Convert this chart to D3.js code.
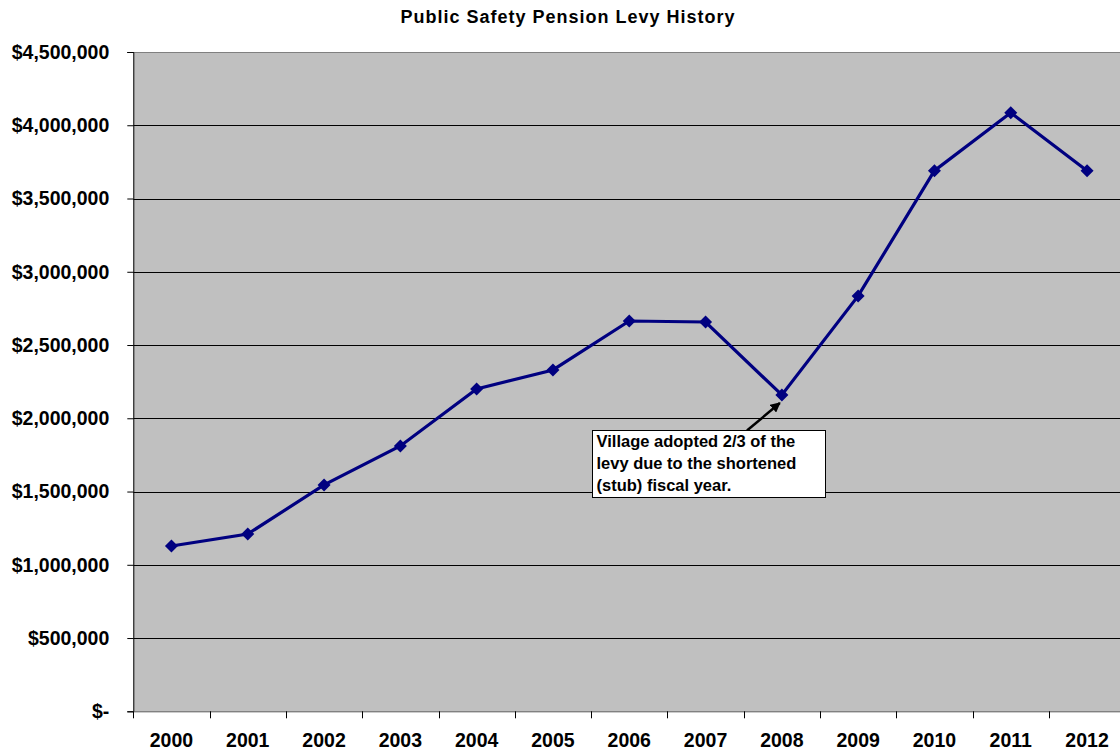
<!doctype html>
<html lang="en">
<head>
  <meta charset="utf-8">
  <title>Public Safety Pension Levy History</title>
  <style>
  body { margin: 0; background: #fff; }
  svg { display: block; font-family: Arial, "Liberation Sans", sans-serif; font-weight: bold; }
  </style>
</head>
<body>
  <div id="chart"></div>
  <script src="https://cdn.jsdelivr.net/npm/d3@7"></script>
  <script>
    var years = ['2000','2001','2002','2003','2004','2005','2006','2007','2008','2009','2010','2011','2012'];
    var levy = [1128000, 1210000, 1545000, 1811000, 2200000, 2330000, 2664000, 2657000, 2159000, 2835000, 3690000, 4086000, 3690000];
    var yTicks = [0, 500000, 1000000, 1500000, 2000000, 2500000, 3000000, 3500000, 4000000, 4500000];
    var noteLines = ['Village adopted 2/3 of the', 'levy due to the shortened', '(stub) fiscal year.'];
    var noteYear = '2008';

    (function() {
      var width = 1120, height = 753;
      var left = 133.3, top = 52, bottom = 711.3, band = 76.3;

      var svg = d3.select('#chart').append('svg')
          .attr('width', width)
          .attr('height', height);

      var x = d3.scaleBand().domain(years).range([left, left + band * years.length]);
      var y = d3.scaleLinear().domain([0, 4500000]).range([bottom, top]);

      // plot area
      svg.append('rect')
        .attr('x', left).attr('y', top)
        .attr('width', width - left).attr('height', bottom - top)
        .attr('fill', '#c0c0c0');
      svg.append('line')
        .attr('x1', left).attr('x2', width)
        .attr('y1', top + 0.5).attr('y2', top + 0.5)
        .attr('stroke', '#808080');

      // gridlines
      svg.append('g').selectAll('line')
        .data(yTicks.filter(function(d) { return d > 0 && d < 4500000; }))
        .enter().append('line')
        .attr('x1', left).attr('x2', width)
        .attr('y1', function(d) { return Math.round(y(d)) + 0.5; })
        .attr('y2', function(d) { return Math.round(y(d)) + 0.5; })
        .attr('stroke', '#000').attr('stroke-width', 1);

      var fmt = function(d) { return d === 0 ? '$-' : '$' + d3.format(',')(d); };

      var yAxis = svg.append('g')
        .attr('transform', 'translate(' + left + ',0)')
        .call(d3.axisLeft(y).tickValues(yTicks).tickFormat(fmt).tickSize(6).tickPadding(18));
      yAxis.select('.domain').attr('stroke', '#000');
      yAxis.selectAll('.tick line').attr('stroke', '#000');
      yAxis.selectAll('text')
        .attr('font-size', 19.5).attr('font-weight', 'bold')
        .attr('font-family', 'Arial, "Liberation Sans", sans-serif')
        .attr('fill', '#000');

      var xAxis = svg.append('g')
        .attr('transform', 'translate(0,' + bottom + ')')
        .call(d3.axisBottom(x).tickSize(0).tickPadding(22));
      xAxis.select('.domain').attr('stroke', '#555').attr('d', 'M' + left + ',0.5H' + width);
      xAxis.selectAll('text')
        .attr('font-size', 19.5).attr('font-weight', 'bold')
        .attr('font-family', 'Arial, "Liberation Sans", sans-serif')
        .attr('fill', '#000');

      // category boundary ticks
      svg.append('g').selectAll('line')
        .data(years)
        .enter().append('line')
        .attr('x1', function(d) { return Math.round(x(d)) + 0.5; })
        .attr('x2', function(d) { return Math.round(x(d)) + 0.5; })
        .attr('y1', bottom).attr('y2', bottom + 7)
        .attr('stroke', '#000');

      // line + markers
      var cx = function(d, i) { return x(years[i]) + x.bandwidth() / 2; };
      var line = d3.line()
        .x(cx)
        .y(function(d) { return y(d); });

      svg.append('path')
        .datum(levy)
        .attr('d', line)
        .attr('fill', 'none')
        .attr('stroke', '#000080')
        .attr('stroke-width', 3.2);

      svg.append('g').selectAll('path')
        .data(levy)
        .enter().append('path')
        .attr('d', function(d, i) {
          var px = cx(d, i), py = y(d), r = 6.5;
          return 'M' + px + ',' + (py - r) + 'L' + (px + r) + ',' + py + 'L' + px + ',' + (py + r) + 'L' + (px - r) + ',' + py + 'Z';
        })
        .attr('fill', '#000080');

      // annotation
      var bx = 592.5, by = 430.5, bw = 233, bh = 67;
      var target = [x(noteYear) + x.bandwidth() / 2, y(levy[years.indexOf(noteYear)])];

      svg.append('defs').append('marker')
        .attr('id', 'arrow')
        .attr('viewBox', '0 0 10 10')
        .attr('refX', 9).attr('refY', 5)
        .attr('markerWidth', 4).attr('markerHeight', 4)
        .attr('orient', 'auto')
        .append('path').attr('d', 'M0,0L10,5L0,10Z').attr('fill', '#000');

      svg.append('line')
        .attr('x1', 747).attr('y1', by)
        .attr('x2', target[0] - 2).attr('y2', target[1] + 8)
        .attr('stroke', '#000').attr('stroke-width', 2.5)
        .attr('marker-end', 'url(#arrow)');

      svg.append('rect')
        .attr('x', bx).attr('y', by)
        .attr('width', bw).attr('height', bh)
        .attr('fill', '#fff').attr('stroke', '#000').attr('stroke-width', 1);

      svg.append('g').selectAll('text')
        .data(noteLines)
        .enter().append('text')
        .attr('x', bx + 4)
        .attr('y', function(d, i) { return 446.5 + i * 22; })
        .attr('font-size', 16.5)
        .text(function(d) { return d; });

      // title
      svg.append('text')
        .attr('x', 568).attr('y', 23)
        .attr('text-anchor', 'middle')
        .attr('font-size', 18)
        .attr('letter-spacing', 1)
        .text('Public Safety Pension Levy History');
    })();
  </script>
</body>
</html>
